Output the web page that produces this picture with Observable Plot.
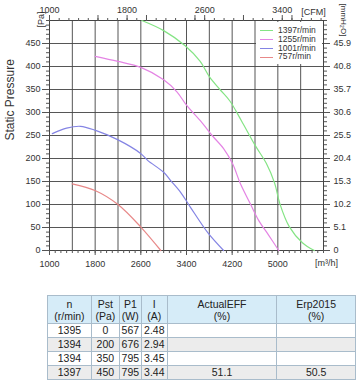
<!DOCTYPE html>
<html><head><meta charset="utf-8">
<script src="https://cdn.jsdelivr.net/npm/d3@7"></script>
<script src="https://cdn.jsdelivr.net/npm/@observablehq/plot@0.6"></script>
<style>
html,body{margin:0;padding:0;background:#fff;}
body{width:356px;height:383px;position:relative;overflow:hidden;font-family:"Liberation Sans",Arial,sans-serif;}
#chart{position:absolute;left:0;top:0;}
#legend{position:absolute;left:256px;top:22px;width:66px;height:42px;background:#fff;font-size:8.5px;color:#333;padding-top:4px;box-sizing:border-box;}
#legend div{height:8.8px;line-height:8.8px;white-space:nowrap;}
#legend span.sw{display:inline-block;width:13px;height:0;border-top:1.3px solid;vertical-align:middle;margin:0 5px 0 4px;}
#tbl{position:absolute;left:47px;top:295px;}
table{border-collapse:collapse;font-size:10.5px;color:#222;text-align:center;}
th,td{border:1px solid #a9bccb;padding:0;}
th{background:#d6ecf8;font-weight:normal;height:27px;line-height:12px;}
td{height:13px;line-height:13px;}
tr.g td{background:#ececec;}
</style></head><body>
<div id="chart"></div>
<div id="legend"></div>
<div id="tbl"></div>
<script>
// ---- data ----
const speeds = ["1397r/min", "1255r/min", "1001r/min", "757r/min"];
const colors = ["#84e484", "#e484e4", "#8484e4", "#e88888"];

const flow1397 = [2618, 3000, 3377, 3640, 3800, 3985, 4160, 4362, 4600, 4800, 4945, 5035, 5200, 5430, 5640];
const pst1397  = [500, 478, 445, 411, 378, 350, 325, 282, 229, 189, 146, 102, 52, 17, 0];

const flow1255 = [1800, 2200, 2600, 3000, 3232, 3400, 3670, 3849, 4053, 4210, 4345, 4520, 4666, 4841, 5016];
const pst1255  = [422, 411, 398, 371, 345, 316, 278, 250, 221, 188, 145, 101, 65, 33, 0];

const flow1001 = [1050, 1300, 1544, 1807, 2193, 2596, 2719, 3000, 3123, 3300, 3464, 3783, 4050];
const pst1001  = [254, 266, 270, 261, 241, 211, 196, 170, 152, 126, 95, 37, 0];

const flow757 = [1398, 1807, 2200, 2600, 2950];
const pst757  = [145, 130, 100, 51, 0];

// axes
const xLabels = [1000, 1800, 2600, 3400, 4200, 5000];          // m3/h
const yLabels = [0, 50, 100, 150, 200, 250, 300, 350, 400, 450]; // Pa
const mmLabels = ["0", "5.1", "10.2", "15.3", "20.4", "25.5", "30.6", "35.7", "40.8", "45.9"];
const cfmLabels = [1000, 1800, 2600, 3400];
const cfmFactor = 1.699; // m3/h per CFM
const xDomain = [1000, 5800];
const yDomain = [0, 500];

// table
const tblHeader = [["n", "(r/min)"], ["Pst", "(Pa)"], ["P1", "(W)"], ["I", "(A)"], ["ActualEFF", "(%)"], ["Erp2015", "(%)"]];
const colN   = ["1395", "1394", "1394", "1397"];
const colPst = ["0", "200", "350", "450"];
const colP1  = ["567", "676", "795", "795"];
const colI   = ["2.48", "2.94", "3.45", "3.44"];
const colEff = ["", "", "", "51.1"];
const colErp = ["", "", "", "50.5"];
const colWidths = [43, 27, 21, 25, 109, 78];

// ---- build ----
const series = [
  [flow1397, pst1397], [flow1255, pst1255], [flow1001, pst1001], [flow757, pst757]
];
const curves = [];
series.forEach(([f, p], s) => f.forEach((q, i) => curves.push({speed: speeds[s], q, p: p[i]})));

const xGrid = d3.range(xDomain[0], xDomain[1] + 1, 400);
const yGrid = d3.range(yDomain[0], yDomain[1] + 1, 50);
const xMinor = d3.range(xDomain[0], xDomain[1] + 1, 100);
const yMinor = d3.range(yDomain[0], yDomain[1] + 1, 10);
const toM3h = c => xDomain[0] + (c - cfmLabels[0]) * cfmFactor;
const cfmMax = cfmLabels[0] + (xDomain[1] - xDomain[0]) / cfmFactor;
const cfmMinor = d3.range(cfmLabels[0], cfmMax, 100).map(toM3h);
const cfmMid = d3.range(cfmLabels[0], cfmMax, 500).map(toM3h);
const cfmPos = cfmLabels.map(toM3h);

const ink = "#333";
const ax = {stroke: "#555", label: null};
const chart = Plot.plot({
  width: 356,
  height: 290,
  marginLeft: 49,
  marginRight: 33,
  marginTop: 20,
  marginBottom: 40,
  style: {fontFamily: "Liberation Sans, Arial, sans-serif", fontSize: "9px", color: ink, background: "transparent"},
  x: {domain: xDomain, label: null},
  y: {domain: yDomain, label: null},
  color: {domain: speeds, range: colors},
  marks: [
    Plot.gridX(xGrid, {stroke: "#444", strokeOpacity: 0.9}),
    Plot.gridY(yGrid, {stroke: "#444", strokeOpacity: 0.9}),
    Plot.frame({stroke: "#444"}),
    // bottom
    Plot.axisX({...ax, ticks: xMinor, tickSize: 3, text: null}),
    Plot.axisX({...ax, ticks: xLabels, tickSize: 5, tickPadding: 5, tickFormat: d => String(d), fill: ink}),
    // top (CFM)
    Plot.axisX({...ax, anchor: "top", ticks: cfmMinor, tickSize: 3, text: null}),
    Plot.axisX({...ax, anchor: "top", ticks: cfmMid, tickSize: 6, text: null}),
    Plot.axisX({...ax, anchor: "top", ticks: cfmPos, tickSize: 6, tickPadding: 2, tickFormat: d => String(Math.round(cfmLabels[0] + (d - xDomain[0]) / cfmFactor)), fill: ink}),
    // left
    Plot.axisY({...ax, ticks: yMinor, tickSize: 3, text: null}),
    Plot.axisY({...ax, ticks: yLabels, tickSize: 7, tickPadding: 2, tickFormat: d => String(d), fill: ink}),
    // right (mmH2O)
    Plot.axisY({...ax, anchor: "right", ticks: yMinor, tickSize: 3, text: null}),
    Plot.axisY({...ax, anchor: "right", ticks: yLabels, tickSize: 6, tickPadding: 4, tickFormat: d => mmLabels[yLabels.indexOf(d)], fill: ink}),
    // curves
    Plot.line(curves, {x: "q", y: "p", z: "speed", stroke: "speed", strokeWidth: 1.2, curve: "catmull-rom"}),
    // unit labels
    Plot.text(["[m³/h]"], {frameAnchor: "bottom-right", dy: 15, dx: 3, fill: ink, fontSize: 9, textAnchor: "middle"}),
    Plot.text(["[CFM]"], {frameAnchor: "top-right", dy: -12, dx: -10, fill: ink, fontSize: 9, textAnchor: "middle"}),
    Plot.text(["[Pa]"], {frameAnchor: "top-left", dx: -12, dy: 7, rotate: -90, fill: ink, fontSize: 9}),
    Plot.text(["[mmH₂O]"], {frameAnchor: "top-right", dx: 23, dy: -17, rotate: 90, textAnchor: "start", fill: ink, fontSize: 8}),
    Plot.text(["Static Pressure"], {frameAnchor: "left", dx: -39, dy: 5, rotate: -90, fill: ink, fontSize: 12})
  ]
});
document.getElementById("chart").appendChild(chart);

// legend
const lg = document.getElementById("legend");
speeds.forEach((s, i) => {
  const row = document.createElement("div");
  row.innerHTML = `<span class="sw" style="border-color:${colors[i]}"></span>${s}`;
  lg.appendChild(row);
});

// table
const cols = [colN, colPst, colP1, colI, colEff, colErp];
let html = "<table><tr>";
tblHeader.forEach((h, i) => { html += `<th style="width:${colWidths[i]}px">${h[0]}<br>${h[1]}</th>`; });
html += "</tr>";
colN.forEach((_, r) => {
  html += `<tr class="${r % 2 ? "g" : ""}">`;
  cols.forEach(c => { html += `<td>${c[r]}</td>`; });
  html += "</tr>";
});
html += "</table>";
document.getElementById("tbl").innerHTML = html;
</script>
</body></html>
